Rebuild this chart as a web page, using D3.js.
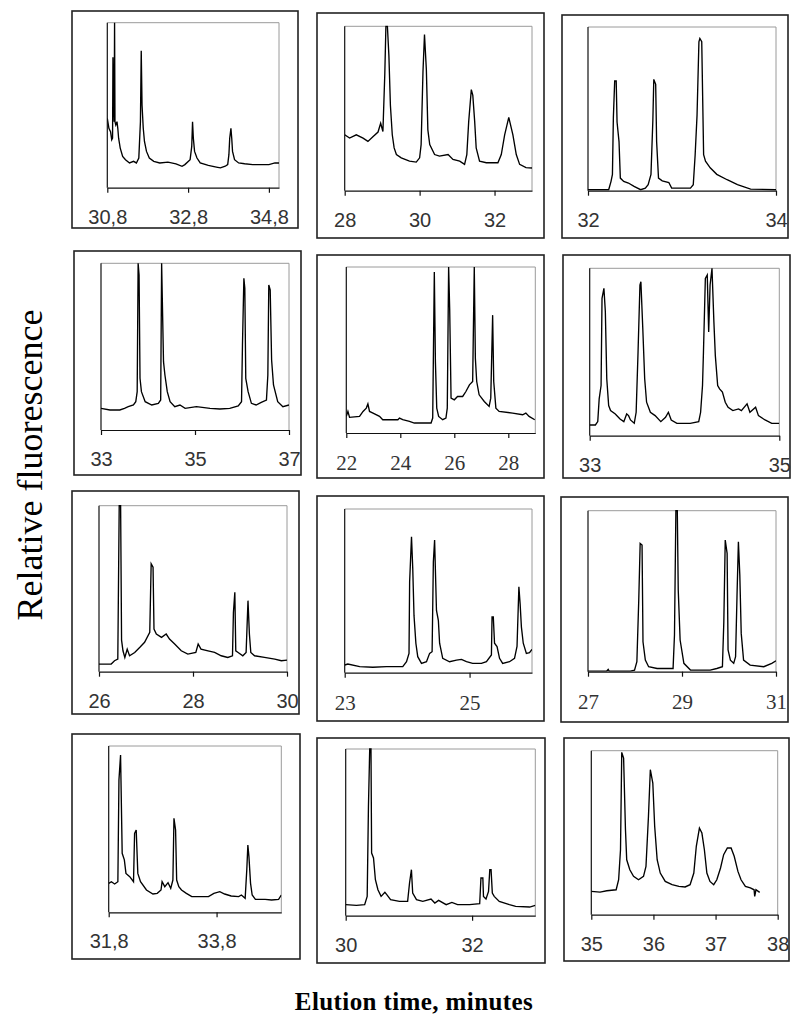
<!DOCTYPE html>
<html><head><meta charset="utf-8">
<script src="https://cdn.jsdelivr.net/npm/d3@7"></script>
<style>body{margin:0;background:#fff}svg{display:block}</style>
</head><body>
<svg id="c" width="800" height="1025"></svg>
<script>
// ---------- DATA (elution time, relative fluorescence in % of panel height) ----------
const trace1 = [[30.80,42],[30.84,36],[30.88,34],[30.91,29],[30.93,30],[30.94,79],[30.95,60],[30.97,40],[30.98,100],[30.99,40],[31.01,38],[31.04,40],[31.06,36],[31.08,30],[31.12,24],[31.18,19],[31.25,17],[31.35,15],[31.45,16],[31.52,15],[31.58,18],[31.62,40],[31.64,83],[31.66,50],[31.69,36],[31.72,28],[31.77,22],[31.84,18],[31.95,16],[32.10,15],[32.30,15.5],[32.50,14.5],[32.65,13],[32.72,14],[32.85,17],[32.89,25],[32.91,40],[32.93,30],[32.96,22],[33.02,18],[33.10,15],[33.30,13.5],[33.50,12.5],[33.60,12],[33.72,13],[33.78,14],[33.81,20],[33.83,30],[33.86,36],[33.88,30],[33.90,22],[33.95,17],[34.05,15],[34.20,14.5],[34.40,14],[34.60,14],[34.80,14],[34.95,15],[35.05,15]];
const trace2 = [[28.00,34],[28.13,32],[28.31,34],[28.49,32],[28.62,30],[28.76,33],[28.89,35.7],[28.96,41],[29.02,36],[29.07,70.6],[29.10,100],[29.14,100],[29.18,82],[29.22,52],[29.27,34],[29.32,26],[29.38,22],[29.51,20],[29.73,18],[29.91,17.4],[30.00,20],[30.04,28],[30.09,72.6],[30.13,95],[30.18,73.6],[30.22,37],[30.27,28],[30.40,22],[30.53,21],[30.76,22],[30.89,19],[31.07,18],[31.20,16],[31.26,22],[31.31,42],[31.38,61.5],[31.42,58],[31.47,42],[31.51,26],[31.60,18],[31.78,17],[32.09,17],[32.18,22],[32.27,34],[32.38,44.6],[32.49,34],[32.58,22],[32.67,16],[32.84,14],[33.00,13.8]];
const trace3 = [[32.00,0.6],[32.22,0.6],[32.245,5.7],[32.26,10],[32.27,45],[32.284,67],[32.30,67],[32.309,42],[32.33,30],[32.344,7.7],[32.38,5.7],[32.43,4.7],[32.49,2.6],[32.56,0.6],[32.61,1.6],[32.64,3.7],[32.67,10],[32.69,43],[32.70,68],[32.72,65],[32.73,30],[32.75,7.7],[32.79,6],[32.86,5],[32.89,1.6],[33.09,1.6],[33.12,3.7],[33.14,22],[33.16,46],[33.18,91],[33.19,93],[33.21,91],[33.23,22],[33.25,18],[33.30,14],[33.37,10],[33.48,6.7],[33.59,3.7],[33.73,1],[34.00,0.6]];
const trace4 = [[33.00,13],[33.19,12],[33.40,12],[33.50,13],[33.58,14],[33.69,15],[33.74,17],[33.77,23],[33.79,100],[33.81,93],[33.83,31],[33.86,23],[33.94,17],[34.08,15],[34.22,16],[34.27,18],[34.29,100],[34.33,41],[34.36,33],[34.41,23],[34.47,17],[34.57,14],[34.68,15],[34.79,13],[35.03,14],[35.32,13],[35.53,12.6],[35.74,13],[35.92,14.4],[35.99,17],[36.01,51],[36.04,91],[36.06,85],[36.08,31],[36.13,23],[36.20,16],[36.30,15],[36.41,16.6],[36.52,18],[36.55,33],[36.57,87],[36.60,84],[36.63,42],[36.67,27],[36.76,17],[36.87,14],[37.00,15]];
const trace5 = [[22.00,10],[22.06,13],[22.12,9.4],[22.49,10],[22.62,13],[22.74,15],[22.80,17.5],[22.86,13],[22.99,12],[23.23,10],[23.35,8],[23.91,8],[23.97,9],[24.09,8],[24.34,7],[24.52,6],[25.14,6],[25.20,9],[25.26,97],[25.30,43],[25.35,15],[25.42,10],[25.57,8],[25.69,9],[25.74,15],[25.79,100],[25.83,74],[25.88,21],[26.00,20],[26.12,22],[26.31,22],[26.43,25],[26.56,29],[26.68,31],[26.74,100],[26.78,45],[26.83,31],[26.92,23],[27.11,19],[27.29,16],[27.35,21],[27.42,71],[27.46,31],[27.54,15],[27.66,13],[28.16,12],[28.53,11],[28.65,12],[28.77,10],[28.98,8]];
const trace6 = [[33.00,6.4],[33.06,6.4],[33.085,8.4],[33.10,22],[33.12,30],[33.13,82],[33.15,88],[33.165,74],[33.18,34],[33.20,18],[33.22,15],[33.27,13],[33.32,10],[33.36,8.4],[33.39,13],[33.41,12],[33.43,9.4],[33.47,7.4],[33.49,14],[33.51,50],[33.53,90],[33.54,92],[33.56,64],[33.58,34],[33.60,20],[33.64,14],[33.69,12],[33.75,8.4],[33.80,11],[33.83,14],[33.86,9.4],[33.92,7.4],[34.06,7.4],[34.15,8.4],[34.17,14],[34.19,30],[34.20,50],[34.22,94],[34.24,96],[34.255,62],[34.27,90],[34.29,100],[34.31,68],[34.325,48],[34.35,30],[34.37,28],[34.40,26],[34.43,20],[34.46,17],[34.51,15],[34.57,16],[34.60,15],[34.66,19],[34.69,14],[34.75,17],[34.78,12],[34.85,9.4],[34.92,7.4],[35.00,7.4]];
const trace7 = [[26.00,4.6],[26.26,4.6],[26.33,6.6],[26.40,7.6],[26.43,100],[26.46,100],[26.48,19],[26.51,12.6],[26.55,8.6],[26.60,13.6],[26.65,9.6],[26.76,11.6],[26.87,14.7],[26.97,17.7],[27.08,23.7],[27.11,65],[27.15,63],[27.17,25.7],[27.22,22.7],[27.33,20.7],[27.43,22.7],[27.50,19.7],[27.61,16.7],[27.75,12.6],[27.89,10.6],[28.06,11.6],[28.11,16.7],[28.17,13.6],[28.32,12.6],[28.46,11.6],[28.60,9.6],[28.74,8.6],[28.84,9.6],[28.86,35.7],[28.89,47.8],[28.91,12.6],[28.96,11.6],[29.06,9.6],[29.13,11.6],[29.17,42.8],[29.20,22.7],[29.23,11.6],[29.31,9.6],[29.52,8.6],[29.74,7.6],[29.88,6.6],[30.00,7]];
const trace8 = [[23.00,4.7],[23.05,5.3],[23.24,3.7],[23.45,3.3],[23.67,3.7],[23.93,3.7],[23.99,6.7],[24.03,11.8],[24.04,55.6],[24.07,83],[24.09,63.7],[24.11,35],[24.14,18],[24.17,9.8],[24.23,5.7],[24.31,6.7],[24.36,11.8],[24.40,12.8],[24.42,67.8],[24.44,81],[24.47,38],[24.50,32],[24.52,18],[24.57,8.8],[24.68,6.7],[24.79,7.7],[24.87,8.1],[24.95,6.7],[25.05,5.7],[25.19,5.7],[25.27,6.7],[25.35,10.8],[25.36,34],[25.38,34],[25.40,18],[25.44,16],[25.48,8.8],[25.53,5.7],[25.64,6.7],[25.72,8.8],[25.76,16],[25.79,52.5],[25.81,42],[25.83,28],[25.86,18],[25.91,11.8],[25.96,12.2],[26.00,14.3]];
const trace9 = [[27.00,0.4],[27.40,0.4],[27.43,1.4],[27.45,0.4],[27.90,0.4],[27.99,1],[28.04,6.2],[28.08,44.5],[28.11,79.7],[28.15,78.7],[28.17,18.6],[28.22,7.2],[28.29,3.1],[28.47,2],[28.68,2],[28.81,2],[28.84,22.8],[28.87,100],[28.90,100],[28.92,50.7],[28.96,19.7],[29.04,5.2],[29.18,1],[29.39,1],[29.60,1],[29.74,2],[29.86,3.1],[29.89,31],[29.92,81.8],[29.96,73.5],[29.98,13.5],[30.03,7.2],[30.10,5.2],[30.14,9.3],[30.17,46.6],[30.20,80.7],[30.23,60],[30.26,23.8],[30.31,7.2],[30.45,4.1],[30.74,3.1],[30.91,5.2],[31.00,6.8]];
const trace10 = [[31.80,17.4],[31.85,18.4],[31.91,17],[31.97,18.4],[31.99,79.6],[32.02,94.6],[32.05,35.5],[32.09,31.5],[32.12,23.4],[32.19,21.4],[32.26,18.4],[32.28,47.5],[32.31,49.5],[32.34,23.4],[32.39,18.4],[32.50,13.4],[32.62,11],[32.70,11.4],[32.77,13.4],[32.79,18.4],[32.84,15.4],[32.90,17.8],[32.95,14.4],[32.99,19.4],[33.01,56.5],[33.04,49.5],[33.06,19.4],[33.10,15.4],[33.15,13.4],[33.24,11.4],[33.34,9.4],[33.65,9.4],[33.75,11.4],[33.86,12.4],[33.95,11],[34.07,9.8],[34.21,9.4],[34.26,10.4],[34.33,8.4],[34.36,25.5],[34.38,40.5],[34.40,33.5],[34.43,17.4],[34.46,10.4],[34.52,7.8],[34.70,7.8],[34.82,7.4],[34.95,7.8],[35.00,10.4]];
const trace11 = [[30.00,6.6],[30.17,6.2],[30.30,6.6],[30.34,11.6],[30.36,65.6],[30.38,100],[30.40,100],[30.41,37.6],[30.44,34.6],[30.47,21.6],[30.51,15.6],[30.56,11.6],[30.62,14],[30.65,12.6],[30.71,9.6],[30.85,8.6],[30.98,8.6],[31.01,19.6],[31.04,27.6],[31.06,13.6],[31.12,9.6],[31.22,8.6],[31.35,10],[31.41,7.6],[31.47,9.2],[31.59,6.6],[31.68,8],[31.77,6.6],[31.96,6.6],[32.12,7.2],[32.14,22.6],[32.17,22.6],[32.18,11.6],[32.22,10],[32.26,14.6],[32.28,27.6],[32.30,27.6],[32.32,13.6],[32.35,11.6],[32.43,8.6],[32.59,6.6],[32.69,5.6],[32.91,5.2],[33.00,6.2]];
const trace12 = [[35.00,14.2],[35.14,13.8],[35.25,14.6],[35.40,15.2],[35.44,21.3],[35.47,39.6],[35.49,99],[35.52,95.5],[35.55,51.8],[35.57,33.5],[35.62,27.4],[35.68,23.4],[35.76,21.3],[35.84,23.4],[35.88,29.5],[35.92,60],[35.95,88.4],[35.99,80.3],[36.02,53.9],[36.06,33.5],[36.11,25.4],[36.19,20.3],[36.30,18.3],[36.41,17.3],[36.51,16.9],[36.59,18.3],[36.65,25.4],[36.69,41.7],[36.74,52.8],[36.78,49.8],[36.82,39.6],[36.86,25.4],[36.91,20.3],[36.97,18.3],[37.02,21.3],[37.08,28.5],[37.13,36.6],[37.19,40.7],[37.25,40.7],[37.30,35.6],[37.36,26.4],[37.41,21.3],[37.48,17.3],[37.56,16.3],[37.62,15.2],[37.63,11.2],[37.65,15.2],[37.71,13.6]];

const xDomains = [[30.8,35.05],[28,33],[32,34],[33,37],[22,29],[33,35],[26,30],[23,26],[27,31],[31.8,35.0],[30,33],[35,38]];
const tickValues = [[30.8,32.8,34.8],[28,30,32],[32,34],[33,35,37],[22,24,26,28],[33,35],[26,28,30],[23,25],[27,29,31],[31.8,33.8],[30,32],[35,36,37,38]];
const tickLabels = [["30,8","32,8","34,8"],["28","30","32"],["32","34"],["33","35","37"],["22","24","26","28"],["33","35"],["26","28","30"],["23","25"],["27","29","31"],["31,8","33,8"],["30","32"],["35","36","37","38"]];
const yTitle = "Relative fluorescence";
const xTitle = "Elution time, minutes";

// ---------- LAYOUT ----------
const boxes = [
  [72,11,298,228],[317,13,544,238],[562,15,788,238],
  [74,251,301,475],[317,255,544,478],[563,255,790,478],
  [72,491,299,714],[317,496,544,721],[561,497,788,722],
  [72,734,300,959],[317,738,545,963],[564,738,789,961]
];
const plots = [
  [107.3,22.7,279,187.7],[344.7,26.3,532,190.7],[588,27,776,190.7],
  [101,263.3,289,430],[346.3,267,535.3,433],[589.7,268.3,779.3,435.7],
  [99,505.7,287,671.7],[344.7,509,532,672.7],[588,510.7,776,671.7],
  [108.7,746,281.3,912.3],[345.7,749,535.3,915.7],[591.3,750.7,777.7,914.7]
];
const serifPanels = [4,7,8];
const traces = [trace1,trace2,trace3,trace4,trace5,trace6,trace7,trace8,trace9,trace10,trace11,trace12];

const svg = d3.select("#c");
const defs = svg.append("defs");

traces.forEach((tr, i) => {
  const [bx0,by0,bx1,by1] = boxes[i];
  const [px0,py0,px1,py1] = plots[i];
  const g = svg.append("g");
  g.append("rect").attr("x",bx0).attr("y",by0).attr("width",bx1-bx0).attr("height",by1-by0)
    .attr("fill","none").attr("stroke","#222").attr("stroke-width",1.6);
  const x = d3.scaleLinear().domain(xDomains[i]).range([px0,px1]);
  const y = d3.scaleLinear().domain([0,100]).range([py1,py0]);
  g.append("path").attr("d",`M${px0},${py0}H${px1}V${py1}`).attr("fill","none").attr("stroke","#9a9a9a").attr("stroke-width",1);
  g.append("line").attr("x1",px0).attr("x2",px0).attr("y1",py0).attr("y2",py1).attr("stroke","#111").attr("stroke-width",1.2);
  const clipId = "clip"+i;
  defs.append("clipPath").attr("id",clipId).append("rect").attr("x",px0).attr("y",py0-1).attr("width",px1-px0).attr("height",py1-py0+1);
  const line = d3.line().x(d=>x(d[0])).y(d=>y(d[1]));
  g.append("path").datum(tr).attr("d",line).attr("clip-path",`url(#${clipId})`)
    .attr("fill","none").attr("stroke","#000").attr("stroke-width",1.35).attr("stroke-linejoin","miter");
  const labels = tickLabels[i];
  const ax = d3.axisBottom(x).tickValues(tickValues[i]).tickSize(5).tickSizeOuter(0).tickPadding(17)
    .tickFormat((d,k)=>labels[k]);
  const axg = g.append("g").attr("transform",`translate(0,${py1})`).call(ax);
  axg.select(".domain").attr("stroke","#111").attr("stroke-width",1.2);
  axg.selectAll(".tick line").attr("stroke","#111").attr("stroke-width",1.2);
  const serif = serifPanels.includes(i);
  axg.selectAll(".tick text").attr("fill","#333")
    .style("font-family", serif ? "'Liberation Serif', serif" : "'Liberation Sans', sans-serif")
    .style("font-size", serif ? "21px" : "20px");
});

svg.append("text").attr("transform","translate(42,465) rotate(-90)")
  .attr("text-anchor","middle").style("font-family","'Liberation Serif', serif").style("font-size","36px")
  .attr("fill","#000").text(yTitle);
svg.append("text").attr("x",414).attr("y",1010).attr("text-anchor","middle")
  .style("font-family","'Liberation Serif', serif").style("font-size","25px").style("font-weight","bold")
  .style("letter-spacing","0.4px").attr("fill","#000").text(xTitle);
</script>
</body></html>
